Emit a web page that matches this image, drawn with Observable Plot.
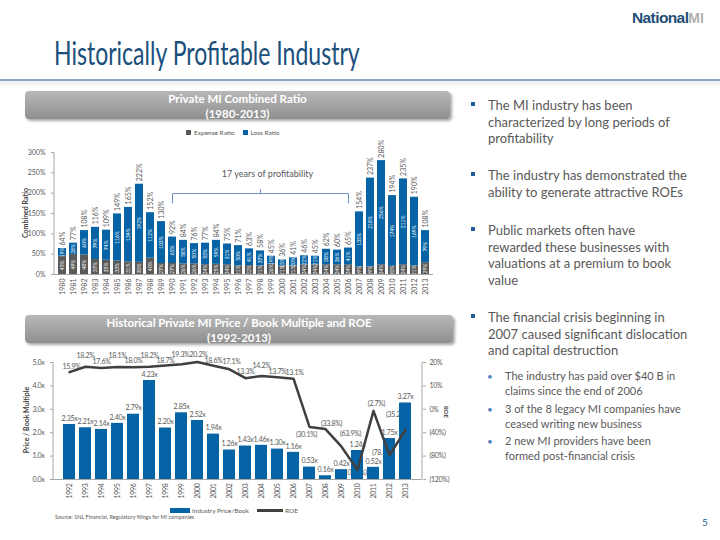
<!DOCTYPE html>
<html><head><meta charset="utf-8">
<script src="https://cdn.jsdelivr.net/npm/d3@7"></script>
<script src="https://cdn.jsdelivr.net/npm/@observablehq/plot@0.6"></script>
<style>
body{margin:0;background:#fff;}
#slide{position:relative;width:720px;height:540px;overflow:hidden;font-family:Lato,"Open Sans",sans-serif;background:#fff;color:#595959;}
.abs{position:absolute;}
.hdr{position:absolute;background:linear-gradient(#b8b8b8,#8f8f8f);border-radius:4px;box-shadow:2px 2px 3px rgba(0,0,0,0.35);color:#fff;font-weight:bold;text-align:center;font-size:11.5px;line-height:15px;}
.bul{position:absolute;left:488px;font-size:13px;line-height:16.7px;color:#595959;width:232px;}
.sq{position:absolute;left:471px;width:4px;height:4px;background:#1f5c99;}
.sub{position:absolute;left:505px;font-size:11px;line-height:14.5px;color:#595959;width:215px;}
.dot{position:absolute;left:487px;font-size:10px;color:#4f81bd;}
.layer{position:absolute;left:0;}
.layer svg{overflow:visible;}
#c2a text, #c2b text{letter-spacing:-0.3px;}
</style></head><body><div id="slide">
<div class="abs" style="left:632px;top:9px;font-family:'Liberation Sans',Arial,sans-serif;font-weight:bold;font-size:15.5px;color:#1f4e79;letter-spacing:-0.6px;">National<span style="color:#b0b0b0;font-size:14px;letter-spacing:0;">MI</span></div>
<div class="abs" style="left:54px;top:33px;font-size:32px;font-weight:400;color:#1b4f7c;white-space:nowrap;transform:scaleX(0.72);transform-origin:0 0;">Historically Profitable Industry</div>
<div class="abs" style="left:0;top:79px;width:720px;height:2px;background:#8eaacb;"></div>
<div class="abs" style="left:0;top:81px;width:720px;height:4px;background:#f2f2f2;"></div>

<div class="hdr" style="left:25px;top:91px;width:425px;height:28px;">Private MI Combined Ratio<br>(1980-2013)</div>
<div class="hdr" style="left:25px;top:315px;width:428px;height:28px;">Historical Private MI Price / Book Multiple and ROE<br>(1992-2013)</div>

<div class="abs" id="leg1" style="left:186px;top:128px;font-size:6.5px;color:#595959;white-space:nowrap;"></div>
<div class="abs" style="left:25px;top:213px;font-size:7px;font-weight:bold;color:#404040;transform:translate(-50%,-50%) rotate(-90deg);white-space:nowrap;">Combined Ratio</div>
<div class="abs" style="left:26px;top:420px;font-size:7px;font-weight:bold;color:#404040;transform:translate(-50%,-50%) rotate(-90deg);white-space:nowrap;">Price / Book Multiple</div>
<div class="abs" style="left:446px;top:412px;font-size:6px;font-weight:bold;color:#404040;transform:translate(-50%,-50%) rotate(90deg);white-space:nowrap;">ROE</div>

<div class="layer" id="c1" style="top:125px;"></div>
<div class="layer" id="c2a" style="top:350px;"></div>
<div class="layer" id="c2b" style="top:350px;"></div>
<div class="layer" id="c2c" style="top:350px;"></div>

<div class="abs" id="leg2" style="left:170px;top:506px;font-size:6.5px;color:#595959;white-space:nowrap;"></div>
<div class="abs" style="left:55px;top:514px;font-size:5.5px;color:#595959;white-space:nowrap;">Source: SNL Financial, Regulatory filings for MI companies</div>

<div class="sq" style="top:102px;"></div>
<div class="bul" style="top:97px;">The MI industry has been<br>characterized by long periods of<br>profitability</div>
<div class="sq" style="top:172px;"></div>
<div class="bul" style="top:167px;">The industry has demonstrated the<br>ability to generate attractive ROEs</div>
<div class="sq" style="top:227px;"></div>
<div class="bul" style="top:222px;">Public markets often have<br>rewarded these businesses with<br>valuations at a premium to book<br>value</div>
<div class="sq" style="top:314px;"></div>
<div class="bul" style="top:309px;">The financial crisis beginning in<br>2007 caused significant dislocation<br>and capital destruction</div>
<div class="dot" style="top:370px;">•</div>
<div class="sub" style="top:369px;">The industry has paid over $40 B in<br>claims since the end of 2006</div>
<div class="dot" style="top:403px;">•</div>
<div class="sub" style="top:402px;">3 of the 8 legacy MI companies have<br>ceased writing new business</div>
<div class="dot" style="top:435px;">•</div>
<div class="sub" style="top:434px;">2 new MI providers have been<br>formed post-financial crisis</div>
<div class="abs" style="left:702px;top:516px;font-size:10px;color:#1f5c99;">5</div>
</div>
<script>
// ---------- Data: Combined ratio chart ----------
const years1 = ["1980","1981","1982","1983","1984","1985","1986","1987","1988","1989","1990","1991","1992","1993","1994","1995","1996","1997","1998","1999","2000","2001","2002","2003","2004","2005","2006","2007","2008","2009","2010","2011","2012","2013"];
const expenseRatio = [45,49,48,37,35,33,31,30,40,27,27,26,26,24,25,24,21,22,21,26,21,21,24,24,24,24,24,19,19,24,20,24,21,29];
const lossRatio = [19,28,60,79,74,116,134,192,112,103,65,58,50,53,59,51,50,41,37,19,15,20,22,21,38,36,41,135,218,256,174,211,169,79];
const combinedRatio = [64,77,108,116,109,149,165,222,152,130,92,84,76,77,84,75,71,63,58,45,36,41,46,45,62,60,65,154,237,280,194,235,190,108];
const seriesNames1 = ["Expense Ratio","Loss Ratio"];
const yTicks1 = [0,50,100,150,200,250,300];
const braceFrom = "1990", braceMid = "1998", braceTo = "2006";
const braceText = "17 years of profitability";

// ---------- Data: Price/Book and ROE chart ----------
const years2 = ["1992","1993","1994","1995","1996","1997","1998","1999","2000","2001","2002","2003","2004","2005","2006","2007","2008","2009","2010","2011","2012","2013"];
const priceBook = [2.35,2.21,2.14,2.40,2.79,4.23,2.20,2.85,2.52,1.94,1.26,1.43,1.46,1.30,1.16,0.53,0.16,0.42,1.24,0.52,1.75,3.27];
const roe = [15.9,18.2,17.6,18.1,18.0,18.2,18.7,19.3,20.2,18.6,17.1,13.3,14.2,13.7,13.1,-30.1,-33.8,-63.9,-103.6,-2.7,-78.6,-35.2];
const yTicks2 = [0,1,2,3,4,5];
const roeTicks = [20,10,0,-40,-80,-120];
const seriesNames2 = ["Industry Price/Book","ROE"];

// ---------- Styles ----------
const BLUE = "#0563a6", GREY = "#595959", LINE = "#404040", TXT = "#595959";
const fontStyle = {fontFamily:"Lato, sans-serif", fontSize:"7px", color:TXT, background:"transparent", overflow:"visible"};

function vline(side, color){
  return (index, scales, values, dim) => {
    const x = side === "left" ? dim.marginLeft : dim.width - dim.marginRight;
    const l = document.createElementNS("http://www.w3.org/2000/svg","line");
    l.setAttribute("x1", x); l.setAttribute("x2", x);
    l.setAttribute("y1", dim.marginTop); l.setAttribute("y2", dim.height - dim.marginBottom);
    l.setAttribute("stroke", color);
    return l;
  };
}

// ---------- Chart 1 ----------
const rows1 = [];
years1.forEach((yr,i) => {
  rows1.push({year:yr, series:seriesNames1[0], value:expenseRatio[i]});
  rows1.push({year:yr, series:seriesNames1[1], value:lossRatio[i]});
});
const totals1 = years1.map((yr,i) => ({year:yr, value:combinedRatio[i]}));
const braceLevel = 199, braceEnd = 176, braceTip = 209;
const brace = [
  {year:braceFrom, v:braceEnd},{year:braceFrom, v:braceLevel},
  {year:braceMid, v:braceLevel},{year:braceMid, v:braceTip},{year:braceMid, v:braceLevel},
  {year:braceTo, v:braceLevel},{year:braceTo, v:braceEnd}
];

const c1 = Plot.plot({
  width:450, height:180, marginLeft:54, marginRight:17, marginTop:27, marginBottom:31,
  style:fontStyle,
  x:{type:"band", domain:years1, paddingInner:0.27, paddingOuter:0.135, label:null},
  y:{domain:[0,300], label:null},
  color:{domain:seriesNames1, range:[GREY, BLUE]},
  marks:[
    Plot.barY(rows1, {x:"year", y:"value", fill:"series"}),
    Plot.text(rows1, Plot.stackY({x:"year", y:"value", z:"series", text:d => d.value + "%", rotate:-90, fill:"white", fontSize:5})),
    Plot.text(totals1, {x:"year", y:"value", text:d => d.value + "%", rotate:-90, textAnchor:"start", dy:-3, fill:TXT, fontSize:7}),
    Plot.line(brace, {x:"year", y:"v", stroke:"#6a8fc0", strokeWidth:1}),
    Plot.text([braceText], {x:[braceMid], y:[248], text:d => d, dx:7, fill:TXT, fontSize:9}),
    Plot.axisY({ticks:yTicks1, tickFormat:d => d + "%", tickSize:3, stroke:"#a6a6a6", fill:TXT, label:null}),
    Plot.axisX({tickRotate:-90, tickSize:0, tickPadding:4, fill:TXT, label:null}),
    Plot.ruleY([0], {stroke:"#a6a6a6"}),
    vline("left", "#a6a6a6")
  ]
});
document.getElementById("c1").appendChild(c1);

document.getElementById("leg1").innerHTML = seriesNames1.map((n,i) =>
  `<span style="display:inline-block;width:5px;height:5px;background:${[GREY,BLUE][i]};margin-right:3px;vertical-align:middle;"></span><span style="vertical-align:middle;margin-right:8px;">${n}</span>`).join("");

// ---------- Chart 2 ----------
const rows2 = years2.map((yr,i) => ({year:yr, pb:priceBook[i], roe:roe[i]}));
const dims2 = {width:450, height:160, marginLeft:53, marginRight:28, marginTop:12, marginBottom:31};
const xBand2 = {type:"band", domain:years2, paddingInner:0.22, paddingOuter:0.11};
// The ROE axis of the original is broken: 10 points per step above zero, 40 points per step below.
const roeAxisUnits = v => v < 0 ? v / 4 : v;
const roeY = {domain:[-30, 20], label:null};
const fmtPct = v => v < 0 ? `(${(-v).toFixed(1)}%)` : `${v.toFixed(1)}%`;

// label placements (screen offsets) for ROE labels
const roeLabelOffset = {
  "1992":[2,-5],"1993":[0,-11],"1994":[0,-6],"1995":[0,-11],"1996":[0,-6],"1997":[0,-11],"1998":[0,-5],
  "1999":[-1,-9],"2000":[1,-7],"2001":[0,-5],"2002":[2,-8],"2003":[0,-6],"2004":[0,-10],"2005":[0,-5],"2006":[1,-6],
  "2007":[-3,8],"2008":[6,-5],"2009":[9,-13],"2010":[-3,3],"2011":[3,-7],"2012":[-7,-3],"2013":[-9,-15]
};

const c2a = Plot.plot({
  ...dims2, style:fontStyle,
  x:{...xBand2, axis:null},
  y:roeY,
  marks:[
    ...rows2.map(r => Plot.text([r], {x:"year", y:d => roeAxisUnits(d.roe), text:d => fmtPct(d.roe), fill:TXT, fontSize:7,
      dx:roeLabelOffset[r.year][0], dy:roeLabelOffset[r.year][1]})),
    Plot.axisY(roeTicks.map(roeAxisUnits), {anchor:"right", tickFormat:(d,i) => roeTicks[i] < 0 ? `(${-roeTicks[i]}%)` : `${roeTicks[i]}%`, tickSize:3, tickPadding:4, stroke:"#a6a6a6", fill:TXT, label:null}),
    vline("right", "#a6a6a6")
  ]
});
document.getElementById("c2a").appendChild(c2a);

const c2b = Plot.plot({
  ...dims2, style:fontStyle,
  x:{...xBand2, label:null},
  y:{domain:[0,5], label:null},
  marks:[
    Plot.barY(rows2, {x:"year", y:"pb", fill:BLUE}),
    Plot.text(rows2, {x:"year", y:"pb", text:d => d.pb.toFixed(2) + "x", dy:-6, fill:TXT, fontSize:7}),
    Plot.axisY({ticks:yTicks2, tickFormat:d => d.toFixed(1) + "x", tickSize:3, stroke:"#a6a6a6", fill:TXT, label:null}),
    Plot.axisX({tickRotate:-90, tickSize:0, tickPadding:4, fill:TXT, label:null}),
    Plot.ruleY([0], {stroke:"#a6a6a6"}),
    vline("left", "#a6a6a6")
  ]
});
document.getElementById("c2b").appendChild(c2b);

const c2c = Plot.plot({
  ...dims2, style:fontStyle,
  x:{...xBand2, axis:null},
  y:{...roeY, axis:null},
  marks:[
    Plot.line(rows2, {x:"year", y:d => roeAxisUnits(d.roe), stroke:LINE, strokeWidth:2.5})
  ]
});
document.getElementById("c2c").appendChild(c2c);

document.getElementById("leg2").innerHTML =
  `<span style="display:inline-block;width:20px;height:5px;background:${BLUE};margin-right:2px;vertical-align:middle;"></span><span style="vertical-align:middle;margin-right:8px;">${seriesNames2[0]}</span>` +
  `<span style="display:inline-block;width:26px;height:2.5px;background:${LINE};margin-right:2px;vertical-align:middle;"></span><span style="vertical-align:middle;">${seriesNames2[1]}</span>`;
</script>
</body></html>
